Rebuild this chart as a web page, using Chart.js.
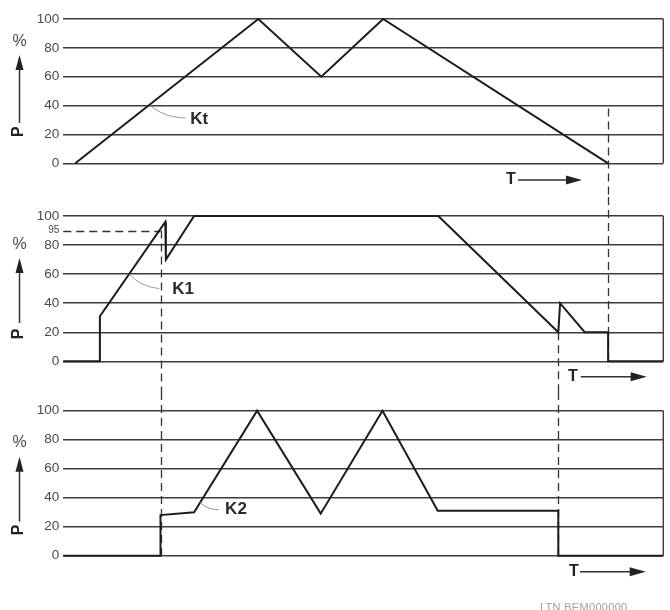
<!DOCTYPE html>
<html>
<head>
<meta charset="utf-8">
<script src="https://cdn.jsdelivr.net/npm/chart.js@4.4.0/dist/chart.umd.min.js"></script>
<style>
  html, body { margin: 0; padding: 0; background: #fff; }
  #wrap { position: relative; width: 670px; height: 610px; overflow: hidden; }
  #wrap canvas { position: absolute; left: 0; }
  #code { position: absolute; left: 540px; top: 601px; font: 11px "Liberation Sans", Arial, sans-serif; color: #a0a0a0; white-space: nowrap; letter-spacing: 0.3px; }
</style>
</head>
<body>
<div id="wrap">
  <canvas id="kt" width="670" height="197" style="top:0"></canvas>
  <canvas id="k1" width="670" height="195" style="top:197px"></canvas>
  <canvas id="k2" width="670" height="218" style="top:392px"></canvas>
  <div id="code">LTN BEM000000</div>
</div>
<script>
// time axis is in arbitrary units 0..100, power in %
const ktTime  = [2, 32.5, 43, 53.3, 90.8];
const ktPower = [0, 100, 60, 100, 0];

const k1Time  = [0, 6.1, 6.1, 17, 17.1, 21.8, 62.5, 82.5, 82.8, 86.9, 90.8, 90.8, 100];
const k1Power = [0, 0, 31, 96, 70, 100, 100, 20, 40, 20, 20, 0, 0];

const k2Time  = [0, 16.2, 16.2, 21.8, 32.3, 42.9, 53.2, 62.4, 82.5, 82.5, 100];
const k2Power = [0, 0, 28, 30, 100, 29, 100, 31, 31, 0, 0];

// switching moments shared by the three curves
const cutTimes = [16.2, 82.5, 90.8];

const yTicks = [0, 20, 40, 60, 80, 100];
// the K1 panel has an extra "95" mark; the drawing puts it at the 90 height
const k1ThresholdPos = 90;
const k1ThresholdLabel = '95';

const lineColor = '#1c1c1c';
const gridColor = '#3c3c3c';
const textColor = '#4a4a4a';
const FONT = '"Liberation Sans", Arial, sans-serif';

function toPoints(xs, ys) {
  return xs.map((x, i) => ({ x: x, y: ys[i] }));
}

function arrowHead(ctx, x, y, dir, len, w) {
  // dir: 'up' or 'right', (x,y) is the tip
  ctx.beginPath();
  if (dir === 'up') {
    ctx.moveTo(x, y);
    ctx.lineTo(x - w / 2, y + len);
    ctx.lineTo(x + w / 2, y + len);
  } else {
    ctx.moveTo(x, y);
    ctx.lineTo(x - len, y - w / 2);
    ctx.lineTo(x - len, y + w / 2);
  }
  ctx.closePath();
  ctx.fill();
}

const decorPlugin = {
  id: 'decor',
  beforeDatasetsDraw(chart, args, opts) {
    const ctx = chart.ctx, a = chart.chartArea;
    const xs = chart.scales.x, ys = chart.scales.y;
    ctx.save();
    // right frame line
    ctx.strokeStyle = gridColor;
    ctx.lineWidth = 1.4;
    ctx.beginPath();
    ctx.moveTo(a.right, a.top);
    ctx.lineTo(a.right, a.bottom);
    ctx.stroke();

    ctx.setLineDash([8, 5]);
    ctx.lineWidth = 1.3;
    ctx.strokeStyle = '#333';
    (opts.cuts || []).forEach(c => {
      const x = Math.round(xs.getPixelForValue(cutTimes[c.i])) + 0.5;
      const y0 = c.from === 'top' ? 0 : ys.getPixelForValue(c.from);
      const y1 = c.to === 'bottom' ? chart.height : ys.getPixelForValue(0) + c.to;
      ctx.beginPath();
      ctx.moveTo(x, y0);
      ctx.lineTo(x, y1);
      ctx.stroke();
    });
    if (opts.threshold) {
      const y = Math.round(ys.getPixelForValue(opts.threshold.value)) + 0.5;
      ctx.beginPath();
      ctx.moveTo(a.left, y);
      ctx.lineTo(xs.getPixelForValue(cutTimes[opts.threshold.i]), y);
      ctx.stroke();
    }
    ctx.restore();
  },
  afterDraw(chart, args, opts) {
    const ctx = chart.ctx, a = chart.chartArea;
    const xs = chart.scales.x, ys = chart.scales.y;
    ctx.save();
    ctx.fillStyle = textColor;
    ctx.strokeStyle = '#333';

    // y axis title: P ----> %
    const m = opts.axis;
    ctx.font = '16px ' + FONT;
    ctx.textAlign = 'center';
    ctx.textBaseline = 'middle';
    ctx.fillText('%', 19.5, a.top + m.pct);
    ctx.fillStyle = '#222';
    ctx.lineWidth = 1.5;
    ctx.beginPath();
    ctx.moveTo(19.5, a.top + m.tail);
    ctx.lineTo(19.5, a.top + m.head + 10);
    ctx.stroke();
    arrowHead(ctx, 19.5, a.top + m.head, 'up', 15, 8);
    ctx.save();
    ctx.translate(18.5, a.top + m.p);
    ctx.rotate(-Math.PI / 2);
    ctx.font = 'bold 16px ' + FONT;
    ctx.fillText('P', 0, 0);
    ctx.restore();

    // T ----> under the panel
    const t = opts.time;
    const ty = a.bottom + t.dy;
    ctx.font = 'bold 16px ' + FONT;
    ctx.fillText('T', t.x, ty);
    ctx.beginPath();
    ctx.moveTo(t.start, ty);
    ctx.lineTo(t.end - 12, ty);
    ctx.stroke();
    arrowHead(ctx, t.end, ty, 'right', 16, 9);

    // curve name with a thin leader line
    const l = opts.label;
    const px = xs.getPixelForValue(l.x), py = ys.getPixelForValue(l.y);
    ctx.strokeStyle = '#999';
    ctx.lineWidth = 1;
    ctx.beginPath();
    ctx.moveTo(px, py);
    ctx.quadraticCurveTo(px + l.cx, py + l.cy, px + l.ex, py + l.ey);
    ctx.stroke();
    ctx.fillStyle = '#2a2a2a';
    ctx.font = 'bold 17px ' + FONT;
    ctx.textAlign = 'left';
    ctx.fillText(l.text, px + l.tx, py + l.ty);
    ctx.restore();
  }
};

function makePanel(id, points, padding, yValues, yLabels, decor) {
  new Chart(document.getElementById(id), {
    type: 'line',
    data: {
      datasets: [{
        data: points,
        borderColor: lineColor,
        borderWidth: 2,
        pointRadius: 0,
        tension: 0,
        clip: false
      }]
    },
    options: {
      responsive: false,
      animation: false,
      events: [],
      layout: { padding: padding },
      plugins: {
        legend: { display: false },
        tooltip: { enabled: false },
        decor: decor
      },
      scales: {
        x: { type: 'linear', min: 0, max: 100, display: false },
        y: {
          min: 0,
          max: 100,
          afterFit: s => { s.width = 63.3; },
          afterBuildTicks: s => { s.ticks = yValues.map(v => ({ value: v })); },
          border: { display: false },
          grid: {
            drawTicks: false,
            color: c => (c.tick && c.tick.value === k1ThresholdPos && yLabels !== yTicks) ? 'rgba(0,0,0,0)' : gridColor,
            lineWidth: 1.4
          },
          ticks: {
            padding: 4,
            color: textColor,
            font: c => ({ family: FONT, size: (c.tick && yLabels[yValues.indexOf(c.tick.value)] === k1ThresholdLabel) ? 10 : 13.5 }),
            callback: (v) => yLabels[yValues.indexOf(v)]
          }
        }
      }
    },
    plugins: [decorPlugin]
  });
}

makePanel('kt', toPoints(ktTime, ktPower),
  { top: 19, bottom: 33.7, left: 0, right: 6.7 },
  yTicks, yTicks.map(String),
  {
    cuts: [{ i: 2, from: 38, to: 'bottom' }],
    axis: { pct: 22.7, head: 36, tail: 104, p: 112.7 },
    time: { x: 511, start: 518, end: 582, dy: 16.7 },
    label: { text: 'Kt', x: 14.5, y: 40, cx: 14, cy: 12, ex: 35, ey: 12.5, tx: 40, ty: 14 }
  });

const k1Values = [0, 20, 40, 60, 80, k1ThresholdPos, 100];
const k1Labels = ['0', '20', '40', '60', '80', k1ThresholdLabel, '100'];
makePanel('k1', toPoints(k1Time, k1Power),
  { top: 19, bottom: 30.7, left: 0, right: 6.7 },
  k1Values, k1Labels,
  {
    cuts: [
      { i: 2, from: 'top', to: 5 },
      { i: 0, from: k1ThresholdPos, to: 'bottom' },
      { i: 1, from: 20, to: 'bottom' }
    ],
    threshold: { value: k1ThresholdPos, i: 0 },
    axis: { pct: 29, head: 42, tail: 107, p: 118 },
    time: { x: 573, start: 580.7, end: 646.7, dy: 15.4 },
    label: { text: 'K1', x: 11, y: 60, cx: 12, cy: 13, ex: 30, ey: 14.5, tx: 43, ty: 15 }
  });

makePanel('k2', toPoints(k2Time, k2Power),
  { top: 18.7, bottom: 54.3, left: 0, right: 6.7 },
  yTicks, yTicks.map(String),
  {
    cuts: [
      { i: 0, from: 'top', to: 3 },
      { i: 1, from: 'top', to: 3 }
    ],
    axis: { pct: 31.6, head: 46, tail: 111, p: 119.3 },
    time: { x: 574, start: 580, end: 645.7, dy: 16 },
    label: { text: 'K2', x: 22.8, y: 36.5, cx: 8, cy: 7, ex: 19, ey: 7, tx: 25, ty: 7 }
  });
</script>
</body>
</html>
